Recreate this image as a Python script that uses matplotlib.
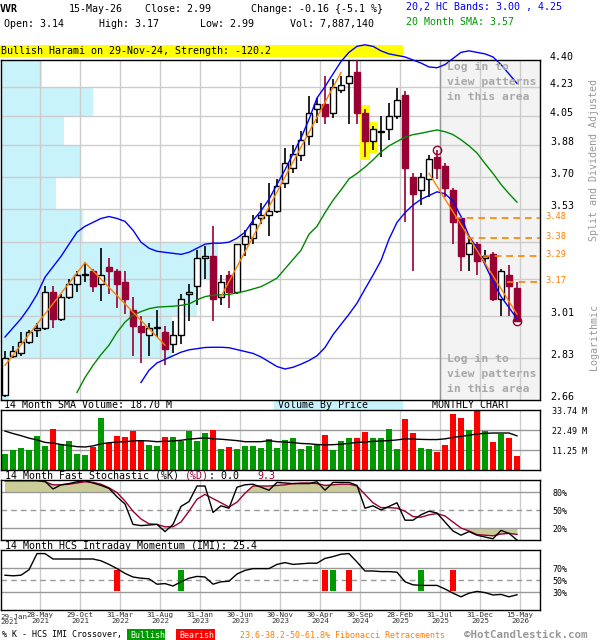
import matplotlib
matplotlib.use("Agg")
import matplotlib.pyplot as plt
import numpy as np
from matplotlib.patches import Rectangle
from matplotlib.ticker import NullLocator
from matplotlib.transforms import offset_copy

plt.rcParams["font.family"] = ["DejaVu Sans Mono", "DejaVu Sans"]

# ---- monthly data, Jan 2021 .. May 2026 (65 months) ----
opens = [2.68, 2.84, 2.85, 2.90, 2.95, 2.96, 3.12, 3.00, 3.10, 3.16,
         3.20, 3.22, 3.16, 3.24, 3.22, 3.17, 3.04, 2.97, 2.93, 2.96,
         2.94, 2.89, 2.93, 3.11, 3.15, 3.28, 3.29, 3.10, 3.20, 3.12,
         3.35, 3.38, 3.48, 3.50, 3.52, 3.67, 3.75, 3.82, 3.93, 4.09,
         4.12, 4.07, 4.21, 4.25, 4.32, 4.07, 3.90, 3.955, 3.97, 4.05,
         4.18, 3.70, 3.63, 3.69, 3.81, 3.76, 3.63, 3.48, 3.30, 3.35,
         3.28, 3.30, 3.09, 3.20, 3.14]
highs = [2.86, 2.88, 2.94, 2.95, 2.98, 3.15, 3.15, 3.11, 3.18, 3.22,
         3.26, 3.23, 3.33, 3.28, 3.23, 3.22, 3.10, 3.01, 2.98, 3.04,
         2.97, 2.99, 3.11, 3.16, 3.32, 3.34, 3.44, 3.20, 3.22, 3.35,
         3.42, 3.50, 3.56, 3.67, 3.69, 3.86, 3.88, 3.96, 4.17, 4.16,
         4.30, 4.28, 4.30, 4.40, 4.40, 4.09, 3.99, 4.05, 4.13, 4.22,
         4.20, 3.72, 3.72, 3.82, 3.85, 3.78, 3.64, 3.49, 3.38, 3.36,
         3.32, 3.31, 3.23, 3.25, 3.17]
lows = [2.67, 2.83, 2.84, 2.89, 2.92, 2.95, 2.96, 2.99, 3.09, 3.12,
        3.17, 3.12, 3.08, 3.11, 3.05, 3.02, 2.84, 2.81, 2.84, 2.92,
        2.80, 2.85, 2.89, 2.99, 3.06, 3.18, 2.99, 3.06, 3.05, 3.11,
        3.29, 3.35, 3.45, 3.39, 3.51, 3.64, 3.72, 3.79, 3.88, 4.01,
        4.00, 4.04, 4.19, 4.00, 4.00, 3.81, 3.85, 3.81, 3.91, 4.03,
        3.46, 3.22, 3.55, 3.59, 3.69, 3.59, 3.35, 3.22, 3.22, 3.20,
        3.26, 3.08, 3.01, 3.01, 2.99]
closes = [2.83, 2.86, 2.90, 2.94, 2.96, 3.12, 3.00, 3.10, 3.16, 3.20,
          3.205, 3.15, 3.20, 3.22, 3.16, 3.09, 2.97, 2.94, 2.96, 2.965,
          2.87, 2.93, 3.09, 3.12, 3.28, 3.29, 3.09, 3.17, 3.12, 3.35,
          3.39, 3.45, 3.50, 3.52, 3.65, 3.78, 3.83, 3.91, 4.07, 4.12,
          4.05, 4.23, 4.24, 4.30, 4.07, 3.90, 3.97, 3.96, 4.05, 4.15,
          3.75, 3.61, 3.70, 3.80, 3.75, 3.64, 3.46, 3.29, 3.355, 3.27,
          3.29, 3.09, 3.22, 3.15, 2.99]
volume = [9.3, 11.4, 12.6, 11.1, 19.1, 13.8, 22.9, 14.6, 16.4, 9.1,
          8.5, 13.0, 29.2, 15.0, 19.1, 18.6, 22.1, 16.6, 14.4, 13.8,
          18.6, 18.6, 16.6, 22.1, 16.4, 20.9, 22.7, 12.0, 13.2, 12.0,
          13.8, 13.8, 12.6, 17.4, 12.6, 16.8, 18.0, 12.0, 13.8, 14.6,
          19.7, 11.1, 16.2, 18.0, 18.0, 21.5, 18.0, 18.0, 23.3, 12.0,
          28.6, 20.9, 12.6, 12.0, 10.3, 14.4, 31.6, 29.2, 22.7, 33.7,
          22.1, 15.6, 20.3, 18.0, 7.9]
vol_sma = [22.0, 20.6, 19.4, 18.0, 17.0, 15.6, 15.2, 14.4, 13.8, 13.2,
           13.0, 13.6, 14.8, 15.4, 15.8, 16.0, 16.4, 16.6, 16.4, 16.0,
           16.2, 16.4, 16.8, 17.4, 17.8, 18.2, 17.6, 17.4, 17.0, 16.6,
           16.0, 16.0, 16.0, 16.6, 16.0, 15.8, 15.5, 15.0, 14.8, 14.4,
           14.2, 14.3, 14.6, 15.0, 15.6, 15.8, 16.2, 16.4, 16.6, 17.0,
           17.6, 17.5, 17.3, 17.2, 17.2, 17.6, 18.4, 19.0, 19.6, 20.4,
           20.7, 20.9, 20.9, 20.9, 19.3]
upper_band = [2.92, 2.96, 3.00, 3.05, 3.11, 3.19, 3.24, 3.29, 3.35, 3.41,
              3.44, 3.46, 3.48, 3.49, 3.48, 3.465, 3.42, 3.36, 3.33, 3.315,
              3.31, 3.305, 3.30, 3.31, 3.33, 3.35, 3.355, 3.355, 3.36, 3.38,
              3.41, 3.47, 3.52, 3.58, 3.66, 3.74, 3.83, 3.92, 4.03, 4.16,
              4.23, 4.31, 4.39, 4.45, 4.49, 4.50, 4.49, 4.46, 4.44, 4.43,
              4.42, 4.40, 4.38, 4.355, 4.35, 4.37, 4.41, 4.45, 4.46, 4.45,
              4.44, 4.42, 4.37, 4.31, 4.25]
lower_start = 17
lower_band = [2.73, 2.78, 2.81, 2.825, 2.84, 2.855, 2.865, 2.87, 2.875, 2.876,
              2.876, 2.874, 2.866, 2.858, 2.85, 2.835, 2.815, 2.795, 2.785, 2.792,
              2.805, 2.82, 2.84, 2.875, 2.93, 2.975, 3.02, 3.07, 3.135, 3.20,
              3.27, 3.375, 3.46, 3.51, 3.55, 3.58, 3.60, 3.62, 3.61, 3.57,
              3.49, 3.39, 3.33, 3.25, 3.17, 3.10, 3.05, 3.00]
sma_start = 9
sma20 = [2.69, 2.75, 2.80, 2.845, 2.885, 2.94, 2.985, 3.016, 3.032, 3.045,
         3.052, 3.054, 3.056, 3.06, 3.066, 3.085, 3.10, 3.106, 3.108, 3.11,
         3.117, 3.125, 3.135, 3.146, 3.165, 3.186, 3.23, 3.275, 3.32, 3.40,
         3.44, 3.51, 3.575, 3.63, 3.69, 3.72, 3.755, 3.795, 3.84, 3.875,
         3.90, 3.925, 3.94, 3.948, 3.958, 3.967, 3.957, 3.94, 3.91, 3.875,
         3.834, 3.775, 3.72, 3.66, 3.61, 3.565]
pct_k = [99, 99, 99, 99, 99, 98, 85, 92, 94, 97,
         99, 95, 91, 86, 72, 60, 26, 24, 25, 26,
         14, 26, 56, 64, 90, 90, 46, 57, 53, 88,
         92, 93, 88, 83, 96, 95, 94, 94, 94, 97,
         83, 96, 96, 96, 91, 53, 57, 50, 56, 62,
         33, 33, 42, 48, 45, 30, 15, 8, 14, 8,
         5, 2, 16, 11, 0]
pct_d = [99, 99, 99, 99, 99, 97, 92, 92, 93, 95,
         97, 96, 93, 87, 79, 65, 48, 35, 27, 26,
         22, 22, 30, 48, 68, 76, 69, 62, 55, 63,
         78, 90, 90, 90, 91, 92, 94, 95, 95, 94,
         91, 92, 93, 93, 90, 76, 62, 54, 54, 53,
         48, 39, 38, 42, 44, 40, 30, 20, 15, 9,
         8, 7, 10, 11, 9.3]
imi = [58, 57, 58, 67, 94, 94, 85, 85, 85, 85,
       85, 85, 82, 76, 69, 61, 55, 53, 52, 43,
       44, 40, 47, 53, 56, 55, 43, 47, 48, 60,
       66, 69, 69, 69, 76, 79, 76, 77, 78, 78,
       86, 89, 93, 94, 80, 65, 65, 64, 64, 63,
       47, 42, 41, 41, 41, 35, 28, 22, 28, 31,
       29, 25, 26, 22, 25.4]
bull_cross = [22, 41, 52]
bear_cross = [14, 40, 43, 56]

price_ticks = [2.66, 2.83, 3.01, 3.18, 3.36, 3.53, 3.70, 3.88, 4.05, 4.23, 4.40]
hidden_ticks = [3.18, 3.36]
# volume-by-price, share of plot width, bottom bin first
vbp_share = [0.015, 0.317, 0.363, 0.402, 0.152, 0.102, 0.146, 0.117, 0.170, 0.076]
fib_levels = [3.48, 3.38, 3.29, 3.17]
fib_start = [56.3, 57.8, 59.8, 62.8]
trend_lines = [([0, 10], [2.80, 3.26]), ([10, 20], [3.26, 2.885]),
               ([27, 42], [3.10, 4.32]), ([53, 64], [3.72, 3.02])]
pattern_months = [45, 46]
swing_high = 54
swing_low = 64
shade_from = 54

tick_months = [0, 4, 9, 14, 19, 24, 29, 34, 39, 44, 49, 54, 59, 64]
tick_labels = ["29-Jan\n2021", "28-May\n2021", "29-Oct\n2021", "31-Mar\n2022",
               "31-Aug\n2022", "31-Jan\n2023", "30-Jun\n2023", "30-Nov\n2023",
               "30-Apr\n2024", "30-Sep\n2024", "28-Feb\n2025", "31-Jul\n2025",
               "31-Dec\n2025", "15-May\n2026"]

DOWN = "#990033"
ORANGE = "#ff7f00"
CYAN = "#c9f3fb"
W, H = 600, 640
XMIN, XMAX = -0.5, 66.875


def frac(x0, y0, x1, y1):
    return [x0 / W, 1 - y1 / H, (x1 - x0) / W, (y1 - y0) / H]


def ftext(x, y, s, **kw):
    kw.setdefault("va", "center")
    kw.setdefault("fontsize", 7.2)
    return fig.text(x / W, 1 - y / H, s, **kw)


def frect(x0, y0, x1, y1, color, z=-1):
    fig.patches.append(Rectangle((x0 / W, 1 - y1 / H), (x1 - x0) / W, (y1 - y0) / H,
                                 transform=fig.transFigure, fc=color, ec="none", zorder=z))


idx = np.arange(len(closes))
o, hi, lo, c = map(np.array, (opens, highs, lows, closes))
up = c >= o
gx = [m + 0.375 for m in tick_months[1:]]

fig = plt.figure(figsize=(6, 6.4), dpi=100)

# ---- header ----
ftext(0, 9, "VVR", fontweight="bold")
ftext(69, 9, "15-May-26")
ftext(145, 9, "Close: 2.99")
ftext(251, 9, "Change: -0.16 {-5.1 %}")
ftext(406, 7, "20,2 HC Bands: 3.00 , 4.25", color="#0000ff")
ftext(4, 24, "Open: 3.14")
ftext(99, 24, "High: 3.17")
ftext(200, 24, "Low: 2.99")
ftext(290, 24, "Vol: 7,887,140")
ftext(406, 22, "20 Month SMA: 3.57", color="#009900")
frect(0, 45, 403, 57, "#ffff00")
ftext(1, 51.5, "Bullish Harami on 29-Nov-24, Strength: -120.2")

# ---- price panel ----
ax = fig.add_axes(frac(1, 60, 540, 400))
ax.set_yscale("log")
ax.set_xlim(XMIN, XMAX)
ax.set_ylim(price_ticks[0], price_ticks[-1])

ax.axvspan(shade_from + 0.375, XMAX, color="#f3f3f3", zorder=0)
ax.barh(price_ticks[:-1], np.array(vbp_share) * (XMAX - XMIN), height=np.diff(price_ticks),
        left=XMIN, align="edge", color=CYAN, zorder=0.5)
for t in price_ticks[1:-1]:
    ax.axhline(t, color="#cccccc", lw=1, zorder=1)
for x in gx:
    ax.axvline(x, color="#cccccc", lw=1, zorder=1)
ax.axvline(shade_from + 0.375, color="#999999", lw=1, zorder=1.1)

for m in pattern_months:
    ax.bar(m, hi[m] * 1.006 - lo[m] * 0.996, bottom=lo[m] * 0.996, width=1.3,
           color="#ffff00", zorder=2)

cols = np.where(up, "black", DOWN)
ax.vlines(idx, lo, hi, colors=cols, lw=1.2, zorder=3)
body_lo = np.minimum(o, c)
body_h = np.maximum(np.abs(c - o), 0.004)
ax.bar(idx, body_h, bottom=body_lo, width=0.7, color=np.where(up, "white", DOWN),
       edgecolor=cols, lw=1, zorder=3.5)

ax.plot(idx, upper_band, color="#0000ff", lw=1, zorder=4, clip_on=False)
ax.plot(np.arange(lower_start, lower_start + len(lower_band)), lower_band,
        color="#0000ff", lw=1, zorder=4)
ax.plot(np.arange(sma_start, sma_start + len(sma20)), sma20, color="#008800", lw=1, zorder=4)
for xs, ys in trend_lines:
    ax.plot(xs, ys, color=ORANGE, lw=1, zorder=4.5)

label_tr = offset_copy(ax.get_yaxis_transform(), fig=fig, x=10, y=3, units="dots")
fib_tr = offset_copy(ax.get_yaxis_transform(), fig=fig, x=5, y=1.5, units="dots")
for lev, st in zip(fib_levels, fib_start):
    ax.plot([st, XMAX], [lev, lev], color=ORANGE, lw=1.2, ls=(0, (4, 3)), zorder=4.5)
    ax.text(1.0, lev, f"{lev:.2f}", transform=fib_tr, color=ORANGE,
            fontsize=6.3, va="center", ha="left")
ax.plot(swing_high, hi[swing_high], "o", mfc="none", mec=DOWN, ms=6, mew=1, zorder=5)
ax.plot(swing_low, lo[swing_low], "o", mfc="none", mec=DOWN, ms=6, mew=1, zorder=5)

ax.set_xticks([])
ax.set_yticks([])
ax.yaxis.set_minor_locator(NullLocator())
for t in price_ticks:
    if t not in hidden_ticks:
        ax.text(1.0, t, f"{t:.2f}", transform=label_tr, fontsize=7.2,
                va="center", ha="left", clip_on=False)
for s in ax.spines.values():
    s.set_linewidth(1)

for y0 in (67, 359):
    for k, line in enumerate(["Log in to", "view patterns", "in this area"]):
        ftext(447, y0 + 15 * k, line, color="#a8a8a8", fontweight="bold", fontsize=8.2)

ftext(594, 160, "Split and Dividend Adjusted", rotation=90, ha="center", color="#999999")
ftext(594, 337, "Logarithmic", rotation=90, ha="center", color="#999999")

# ---- volume panel ----
ftext(4, 405, "14 Month SMA Volume: 18.70 M")
frect(274, 400, 403, 410, CYAN)
ftext(278, 405, "Volume By Price")
ftext(432, 405, "MONTHLY CHART")

vax = fig.add_axes(frac(1, 410, 540, 470))
vax.set_xlim(XMIN, XMAX)
vax.set_ylim(0, 33.9)
for x in gx:
    vax.axvline(x, color="#cccccc", lw=1, zorder=1)
for t in (11.25, 22.49):
    vax.axhline(t, color="#999999", lw=1, zorder=1)
vax.bar(idx, volume, width=0.75, color=np.where(up, "#009900", "#ff0000"), zorder=2)
vax.plot(idx, vol_sma, color="black", lw=1, zorder=3)

# ---- stochastic panel ----
ftext(5, 476, "14 Month Fast Stochastic (%K)")
ftext(185, 476, "(%D)", color=DOWN)
ftext(209, 476, ": 0.0")
ftext(257, 476, "9.3", color=DOWN)

sax = fig.add_axes(frac(1, 480, 540, 540))
sax.set_xlim(XMIN, XMAX)
sax.set_ylim(0, 100)
for x in gx:
    sax.axvline(x, color="#cccccc", lw=1, zorder=1)
pk, pd_ = np.array(pct_k), np.array(pct_d)
sax.fill_between(idx, pd_, 80, where=pd_ >= 80, interpolate=True, color="#cccc99", lw=0, zorder=1.5)
sax.fill_between(idx, pd_, 20, where=pd_ <= 20, interpolate=True, color="#cccc99", lw=0, zorder=1.5)
for t in (20, 80):
    sax.axhline(t, color="#999999", lw=1, zorder=2)
sax.axhline(50, color="#999999", lw=1, ls=(0, (4, 3)), zorder=2)
sax.plot(idx, pct_d, color=DOWN, lw=1, zorder=3)
sax.plot(idx, pct_k, color="black", lw=1, zorder=3.5)

# ---- IMI panel ----
ftext(5, 546, "14 Month HCS Intraday Momentum (IMI): 25.4")

iax = fig.add_axes(frac(1, 550, 540, 610))
iax.set_xlim(XMIN, XMAX)
iax.set_ylim(0, 100)
for x in gx:
    iax.axvline(x, color="#cccccc", lw=1, zorder=1)
for t in (30, 70):
    iax.axhline(t, color="#999999", lw=1, zorder=2)
iax.axhline(50, color="#999999", lw=1, ls=(0, (4, 3)), zorder=2)
iax.bar(bull_cross, 35, bottom=32, width=0.8, color="#009900", zorder=2.5)
iax.bar(bear_cross, 35, bottom=32, width=0.8, color="#ff0000", zorder=2.5)
iax.plot(idx, imi, color="black", lw=1, zorder=3)

# ---- lower panel axes styling ----
panels = [(vax, [11.25, 22.49, 33.74], ["11.25 M", "22.49 M", "33.74 M"]),
          (sax, [20, 50, 80], ["20%", "50%", "80%"]),
          (iax, [30, 50, 70], ["30%", "50%", "70%"])]
for a, ticks, labels in panels:
    a.yaxis.tick_right()
    a.set_yticks(ticks)
    a.set_yticklabels(labels)
    a.tick_params(axis="y", length=0, pad=9, labelsize=6)
    a.set_xticks([])
    for s in a.spines.values():
        s.set_linewidth(1)

iax.set_xticks(gx)
iax.set_xticklabels(tick_labels[1:], fontsize=5.4, color="#333333", linespacing=0.95)
iax.tick_params(axis="x", length=0, pad=1.5)
ftext(0, 619.5, tick_labels[0], fontsize=5.4, color="#333333", linespacing=0.95)

# ---- legend line ----
ftext(2, 635, "% K - HCS IMI Crossover,", fontsize=6)
frect(127, 629, 165, 640, "#009900", z=1)
ftext(130, 635, "Bullish", fontsize=6, color="white")
frect(176, 629, 215, 640, "#ff0000", z=1)
ftext(179, 635, "Bearish", fontsize=6, color="white")
ftext(240, 635, "23.6-38.2-50-61.8% Fibonacci Retracements", fontsize=6, color=ORANGE)
ftext(464, 634.8, "\u00a9HotCandlestick.com", fontsize=7.8, color="#999999", fontweight="bold")

fig.savefig("out.png", dpi=100)
